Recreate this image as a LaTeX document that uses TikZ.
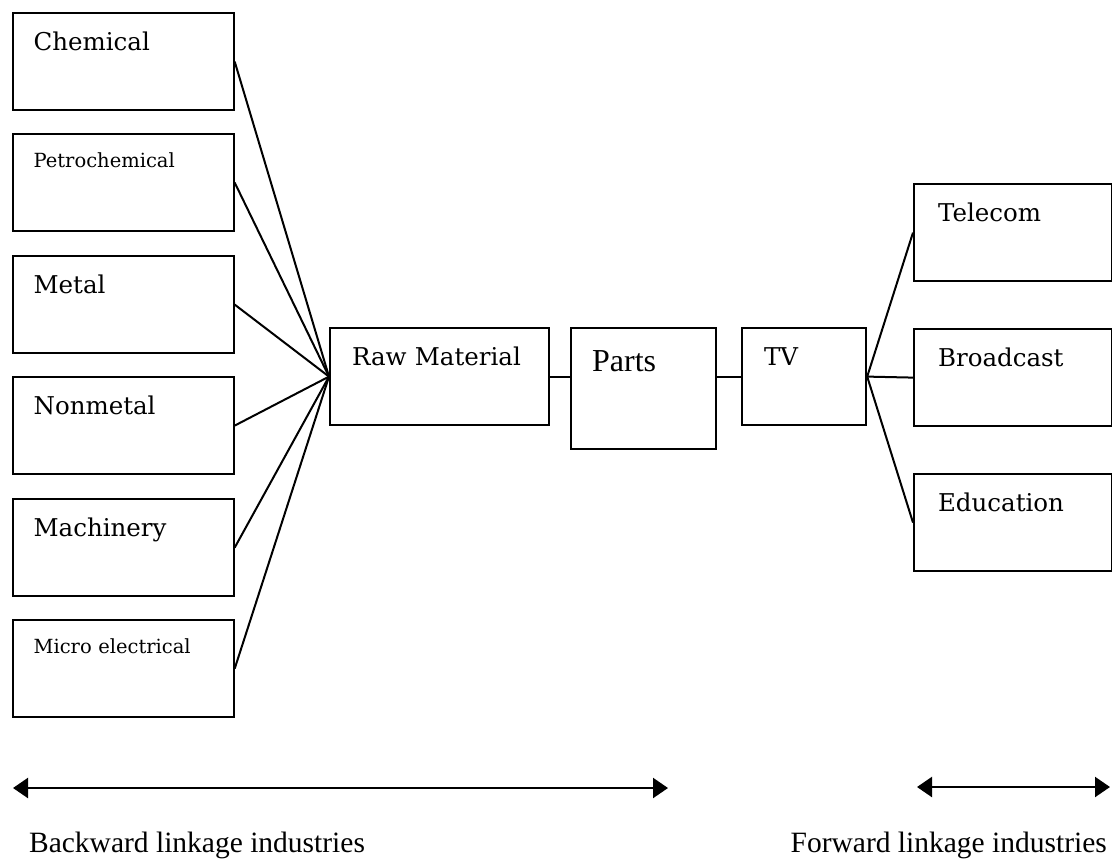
\documentclass[tikz,border=0pt]{standalone}
\usepackage{fontspec}
\setmainfont{Liberation Serif}
\newfontfamily\boxfont{DejaVu Serif}
\usetikzlibrary{arrows.meta}
\begin{document}
\begin{tikzpicture}[x=1pt, y=-1pt,
  line width=2.2pt,
  industry/.style={draw, anchor=north west, inner xsep=21pt, inner ysep=0pt,
    align=left, font=\boxfont\fontsize{24.5}{29}\selectfont,
    text width=179pt, text height=37pt, text depth=60pt},
  smallindustry/.style={industry, font=\boxfont\fontsize{19.5}{23}\selectfont,
    text height=33pt, text depth=64pt},
  stage/.style={draw, anchor=north west, inner xsep=22pt, inner ysep=0pt,
    align=left, font=\boxfont\fontsize{24.5}{29}\selectfont,
    text height=37pt, text depth=60pt},
  outlet/.style={industry, inner xsep=24pt, text width=150pt},
  link/.style={line width=2pt},
  span/.style={line width=2.2pt, {Triangle[length=15pt,width=20pt]}-{Triangle[length=15pt,width=20pt]}},
  caption/.style={font=\fontsize{29.5}{34}\selectfont, inner sep=0pt}
]
\useasboundingbox (0,0) rectangle (1112,863);

% backward linkage industries
\node[industry]      (chem)  at (11.5,12)  {Chemical};
\node[smallindustry] (petro) at (11.5,133) {Petrochemical};
\node[industry]      (metal) at (11.5,255) {Metal};
\node[industry]      (nonm)  at (11.5,376) {Nonmetal};
\node[industry]      (mach)  at (11.5,498) {Machinery};
\node[smallindustry] (micro) at (11.5,619) {Micro electrical};

% production chain
\node[stage, text width=175pt] (raw) at (329,327) {Raw Material};
\node[stage, text width=103pt, inner xsep=21pt, text height=43pt, text depth=78pt,
      font=\fontsize{32}{38}\selectfont] (parts) at (570,327) {Parts};
\node[stage, text width=80pt] (tv) at (741,327) {TV};

% forward linkage industries
\node[outlet] (tele)  at (913,183) {Telecom};
\node[outlet] (bcast) at (913,328) {Broadcast};
\node[outlet] (edu)   at (913,473) {Education};

% connectors
\foreach \n in {chem,petro,metal,nonm,mach,micro}
  \draw[link] (\n.east) -- (raw.west);
\draw[link] (raw.east) -- (parts.west |- raw.east);
\draw[link] (parts.east |- tv.west) -- (tv.west);
\foreach \n in {tele,bcast,edu}
  \draw[link] (tv.east) -- (\n.west);

% linkage spans
\coordinate (bl) at (13,788);
\coordinate (br) at (668,788);
\coordinate (fl) at (917,787);
\coordinate (fr) at (1110,787);
\draw[span] (bl) -- (br);
\draw[span] (fl) -- (fr);

\node[caption, anchor=base west] (back) at (28,852) {Backward linkage industries};
\node[caption, anchor=base east] (fwd)  at (1108,852) {Forward linkage industries};
\end{tikzpicture}
\end{document}
